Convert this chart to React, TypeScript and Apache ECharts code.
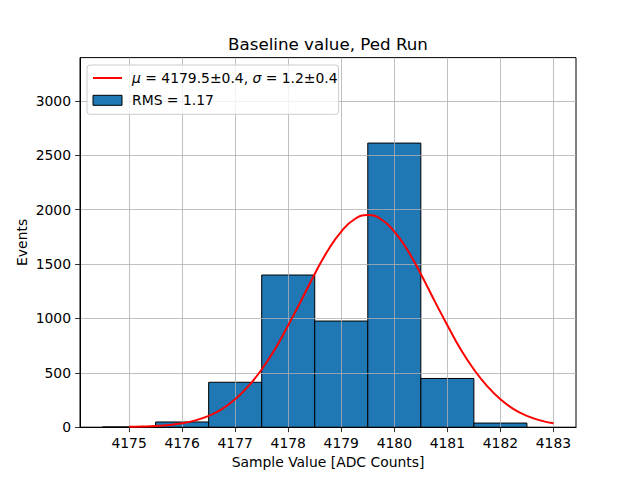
import React, { useEffect, useRef } from "react";
import * as echarts from "echarts";

// Histogram bins (edges) and counts
const binLeft = [4174.5, 4175.5, 4176.5, 4177.5, 4178.5, 4179.5, 4180.5, 4181.5];
const binRight = [4175.5, 4176.5, 4177.5, 4178.5, 4179.5, 4180.5, 4181.5, 4182.5];
const counts = [2, 48, 413, 1399, 976, 2612, 448, 38];

// Fitted curve
const curveX = [
  4175, 4175.25, 4175.5, 4175.75, 4176, 4176.25, 4176.5, 4176.75, 4177, 4177.25, 4177.5,
  4177.75, 4178, 4178.25, 4178.5, 4178.75, 4179, 4179.25, 4179.5, 4179.75, 4180, 4180.25,
  4180.5, 4180.75, 4181, 4181.25, 4181.5, 4181.75, 4182, 4182.25, 4182.5, 4182.75, 4183,
];
const curveY = [
  3, 6, 11, 20, 36, 63, 104, 166, 256, 378, 531, 716, 938, 1169, 1409, 1626, 1798, 1912,
  1950, 1912, 1798, 1626, 1409, 1169, 938, 716, 531, 378, 256, 166, 104, 63, 36,
];

const xTicks = [4175, 4176, 4177, 4178, 4179, 4180, 4181, 4182, 4183];
const yTicks = [0, 500, 1000, 1500, 2000, 2500, 3000];

const TITLE = "Baseline value, Ped Run";
const XNAME = "Sample Value [ADC Counts]";
const YNAME = "Events";
const FIT_MU = "4179.5±0.4";
const FIT_SIGMA = "1.2±0.4";
const RMS_LABEL = "RMS = 1.17";

const FONT = "DejaVu Sans";

export default function App() {
  const ref = useRef<HTMLDivElement>(null);
  useEffect(() => {
    document.body.style.margin = "0";
    const chart = echarts.init(ref.current!, null, { renderer: "svg" });
    const histData = binLeft.map((l, i) => [l, binRight[i], counts[i]]);
    const curveData = curveX.map((x, i) => [x, curveY[i]]);
    const axisCommonLabel = { color: "#000", fontFamily: FONT, fontSize: 13.9 };
    chart.setOption({
      animation: false,
      grid: {
        left: 80,
        top: 57.6,
        right: 64,
        bottom: 52.8,
        show: true,
        borderColor: "#000",
        borderWidth: 1,
        backgroundColor: "#fff",
      },
      graphic: [
        {
          type: "text",
          x: 328,
          y: 44,
          z: 10,
          style: {
            text: TITLE,
            fill: "#000",
            font: `16.7px "${FONT}"`,
            textAlign: "center",
            textVerticalAlign: "middle",
          },
        },
      ],
      legend: {
        orient: "vertical",
        left: 87,
        top: 65,
        z: 20,
        padding: [6, 1, 7, 5],
        itemGap: 8.3,
        itemWidth: 29,
        itemHeight: 10,
        backgroundColor: "rgba(255,255,255,0.8)",
        borderColor: "#cccccc",
        borderWidth: 1,
        borderRadius: 3,
        selectedMode: false,
        data: [
          {
            name: "fit",
            itemStyle: { opacity: 0 },
            lineStyle: { color: "#ff0000", width: 2 },
          },
          {
            name: "hist",
            icon: "rect",
            itemStyle: { color: "#1f77b4", borderColor: "#000", borderWidth: 1 },
          },
        ],
        formatter: (name: string) =>
          name === "fit"
            ? `{i|μ}{t| = ${FIT_MU}, }{i|σ}{t| = ${FIT_SIGMA}}`
            : `{t|${RMS_LABEL}}`,
        textStyle: {
          color: "#000",
          fontFamily: FONT,
          fontSize: 13.9,
          padding: [0, 0, 0, 5],
          rich: {
            t: { fontFamily: FONT, fontSize: 13.9, color: "#000", lineHeight: 14 },
            i: { fontFamily: FONT, fontSize: 13.9, color: "#000", fontStyle: "italic", lineHeight: 14 },
          },
        },
      },
      xAxis: {
        type: "value",
        min: 4174.075,
        max: 4183.425,
        z: 5,
        name: XNAME,
        nameLocation: "middle",
        nameGap: 27,
        nameTextStyle: { color: "#000", fontFamily: FONT, fontSize: 13.9 },
        axisLine: { show: true, onZero: false, lineStyle: { color: "#000", width: 1 } },
        axisTick: {
          show: true,
          length: 4.9,
          lineStyle: { color: "#000", width: 0.8 },
          customValues: xTicks,
        },
        axisLabel: { ...axisCommonLabel, margin: 9, customValues: xTicks, formatter: (v: number) => String(v) },
        splitLine: { show: true, lineStyle: { color: "#b0b0b0", width: 0.8 } },
      },
      yAxis: {
        type: "value",
        min: 0,
        max: 3398,
        z: 5,
        name: YNAME,
        nameLocation: "middle",
        nameGap: 51,
        nameMoveOverlap: false,
        nameTextStyle: { color: "#000", fontFamily: FONT, fontSize: 13.9 },
        axisLine: { show: true, lineStyle: { color: "#000", width: 1 } },
        axisTick: {
          show: true,
          length: 4.9,
          lineStyle: { color: "#000", width: 0.8 },
          customValues: yTicks,
        },
        axisLabel: { ...axisCommonLabel, margin: 9, customValues: yTicks, formatter: (v: number) => String(v) },
        splitLine: { show: true, lineStyle: { color: "#b0b0b0", width: 0.8 } },
      },
      series: [
        {
          name: "hist",
          type: "custom",
          z: 2,
          data: histData,
          encode: { x: [0, 1], y: 2 },
          itemStyle: { color: "#1f77b4", borderColor: "#000", borderWidth: 1 },
          renderItem: (params: any, api: any) => {
            const p0 = api.coord([api.value(0), api.value(2)]);
            const p1 = api.coord([api.value(1), 0]);
            return {
              type: "rect",
              shape: { x: p0[0], y: p0[1], width: p1[0] - p0[0], height: p1[1] - p0[1] },
              style: { fill: "#1f77b4", stroke: "#000", lineWidth: 1 },
            };
          },
        },
        {
          name: "fit",
          type: "line",
          z: 10,
          data: curveData,
          smooth: true,
          symbol: "none",
          showSymbol: false,
          lineStyle: { color: "#ff0000", width: 2 },
          itemStyle: { color: "#ff0000" },
        },
      ],
    });
    return () => chart.dispose();
  }, []);
  return <div ref={ref} style={{ width: 640, height: 480 }} />;
}
